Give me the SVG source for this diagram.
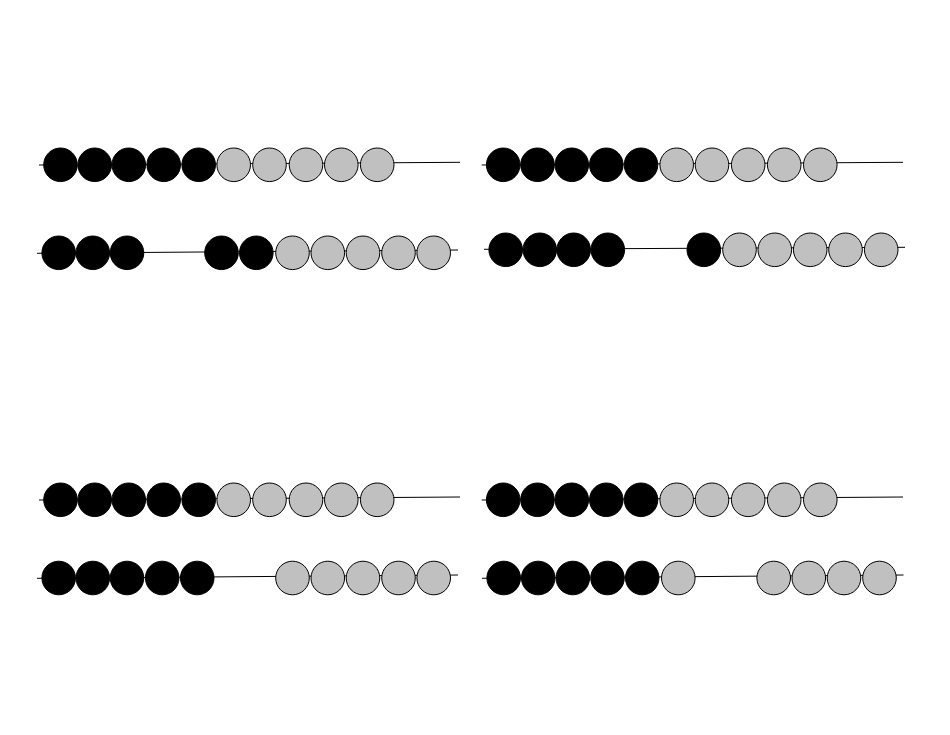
<svg xmlns="http://www.w3.org/2000/svg" width="950" height="735" viewBox="0 0 950 735">
<style>
.wire{stroke:#000;stroke-width:1;fill:none}
.b{fill:#000;stroke:#000;stroke-width:1}
.g{fill:#c0c0c0;stroke:#000;stroke-width:1}
</style>
<rect width="950" height="735" fill="#fff"/>
<g id="wires">
<line class="wire" x1="39" y1="165" x2="460" y2="162.3"/>
<line class="wire" x1="37" y1="253.3" x2="458" y2="250"/>
<line class="wire" x1="481.7" y1="165" x2="903" y2="162.3"/>
<line class="wire" x1="484" y1="249.3" x2="905" y2="247.3"/>
<line class="wire" x1="39" y1="500" x2="460" y2="497"/>
<line class="wire" x1="37" y1="578.3" x2="458" y2="575"/>
<line class="wire" x1="481.7" y1="500" x2="903" y2="497"/>
<line class="wire" x1="482" y1="578.3" x2="903.5" y2="575"/>
</g>
<g id="row-tl-1">
<circle class="b" cx="60.5" cy="164.8" r="16.8"/>
<circle class="b" cx="94.7" cy="164.8" r="16.8"/>
<circle class="b" cx="128.8" cy="164.8" r="16.8"/>
<circle class="b" cx="163.7" cy="164.8" r="16.8"/>
<circle class="b" cx="198.7" cy="164.8" r="16.8"/>
<circle class="g" cx="233.7" cy="164.8" r="16.8"/>
<circle class="g" cx="269.5" cy="164.8" r="16.8"/>
<circle class="g" cx="306" cy="164.8" r="16.8"/>
<circle class="g" cx="341.3" cy="164.8" r="16.8"/>
<circle class="g" cx="377.2" cy="164.8" r="16.8"/>
</g>
<g id="row-tl-2">
<circle class="b" cx="58.7" cy="252.8" r="16.8"/>
<circle class="b" cx="92.8" cy="252.8" r="16.8"/>
<circle class="b" cx="127" cy="252.8" r="16.8"/>
<circle class="b" cx="221.5" cy="252.8" r="16.8"/>
<circle class="b" cx="256.3" cy="252.8" r="16.8"/>
<circle class="g" cx="292.5" cy="252.8" r="16.8"/>
<circle class="g" cx="327.8" cy="252.8" r="16.8"/>
<circle class="g" cx="363" cy="252.8" r="16.8"/>
<circle class="g" cx="398.5" cy="252.8" r="16.8"/>
<circle class="g" cx="433.7" cy="252.8" r="16.8"/>
</g>
<g id="row-tr-1">
<circle class="b" cx="503.2" cy="164.8" r="16.8"/>
<circle class="b" cx="537.5" cy="164.8" r="16.8"/>
<circle class="b" cx="571.8" cy="164.8" r="16.8"/>
<circle class="b" cx="606.3" cy="164.8" r="16.8"/>
<circle class="b" cx="641" cy="164.8" r="16.8"/>
<circle class="g" cx="676.7" cy="164.8" r="16.8"/>
<circle class="g" cx="712" cy="164.8" r="16.8"/>
<circle class="g" cx="748.2" cy="164.8" r="16.8"/>
<circle class="g" cx="784.2" cy="164.8" r="16.8"/>
<circle class="g" cx="820.3" cy="164.8" r="16.8"/>
</g>
<g id="row-tr-2">
<circle class="b" cx="505.7" cy="249.8" r="16.8"/>
<circle class="b" cx="539.8" cy="249.8" r="16.8"/>
<circle class="b" cx="573.7" cy="249.8" r="16.8"/>
<circle class="b" cx="607.8" cy="249.8" r="16.8"/>
<circle class="b" cx="703.8" cy="249.8" r="16.8"/>
<circle class="g" cx="739.5" cy="249.8" r="16.8"/>
<circle class="g" cx="774.8" cy="249.8" r="16.8"/>
<circle class="g" cx="810.2" cy="249.8" r="16.8"/>
<circle class="g" cx="845.5" cy="249.8" r="16.8"/>
<circle class="g" cx="881.2" cy="249.8" r="16.8"/>
</g>
<g id="row-bl-1">
<circle class="b" cx="60.5" cy="499.8" r="16.8"/>
<circle class="b" cx="94.7" cy="499.8" r="16.8"/>
<circle class="b" cx="128.8" cy="499.8" r="16.8"/>
<circle class="b" cx="163.7" cy="499.8" r="16.8"/>
<circle class="b" cx="198.7" cy="499.8" r="16.8"/>
<circle class="g" cx="233.7" cy="499.8" r="16.8"/>
<circle class="g" cx="269.5" cy="499.8" r="16.8"/>
<circle class="g" cx="306" cy="499.8" r="16.8"/>
<circle class="g" cx="341.3" cy="499.8" r="16.8"/>
<circle class="g" cx="377.2" cy="499.8" r="16.8"/>
</g>
<g id="row-bl-2">
<circle class="b" cx="58.7" cy="578" r="16.8"/>
<circle class="b" cx="92.8" cy="578" r="16.8"/>
<circle class="b" cx="127" cy="578" r="16.8"/>
<circle class="b" cx="162.2" cy="578" r="16.8"/>
<circle class="b" cx="197.2" cy="578" r="16.8"/>
<circle class="g" cx="292.5" cy="578" r="16.8"/>
<circle class="g" cx="327.8" cy="578" r="16.8"/>
<circle class="g" cx="363" cy="578" r="16.8"/>
<circle class="g" cx="398.5" cy="578" r="16.8"/>
<circle class="g" cx="433.7" cy="578" r="16.8"/>
</g>
<g id="row-br-1">
<circle class="b" cx="503.2" cy="499.8" r="16.8"/>
<circle class="b" cx="537.5" cy="499.8" r="16.8"/>
<circle class="b" cx="571.8" cy="499.8" r="16.8"/>
<circle class="b" cx="606.3" cy="499.8" r="16.8"/>
<circle class="b" cx="641" cy="499.8" r="16.8"/>
<circle class="g" cx="676.7" cy="499.8" r="16.8"/>
<circle class="g" cx="712" cy="499.8" r="16.8"/>
<circle class="g" cx="748.2" cy="499.8" r="16.8"/>
<circle class="g" cx="784.2" cy="499.8" r="16.8"/>
<circle class="g" cx="820.3" cy="499.8" r="16.8"/>
</g>
<g id="row-br-2">
<circle class="b" cx="503.7" cy="578" r="16.8"/>
<circle class="b" cx="538.2" cy="578" r="16.8"/>
<circle class="b" cx="572.8" cy="578" r="16.8"/>
<circle class="b" cx="607.5" cy="578" r="16.8"/>
<circle class="b" cx="642.2" cy="578" r="16.8"/>
<circle class="g" cx="678.3" cy="578" r="16.8"/>
<circle class="g" cx="773.7" cy="578" r="16.8"/>
<circle class="g" cx="808.8" cy="578" r="16.8"/>
<circle class="g" cx="844" cy="578" r="16.8"/>
<circle class="g" cx="879.5" cy="578" r="16.8"/>
</g>
</svg>
